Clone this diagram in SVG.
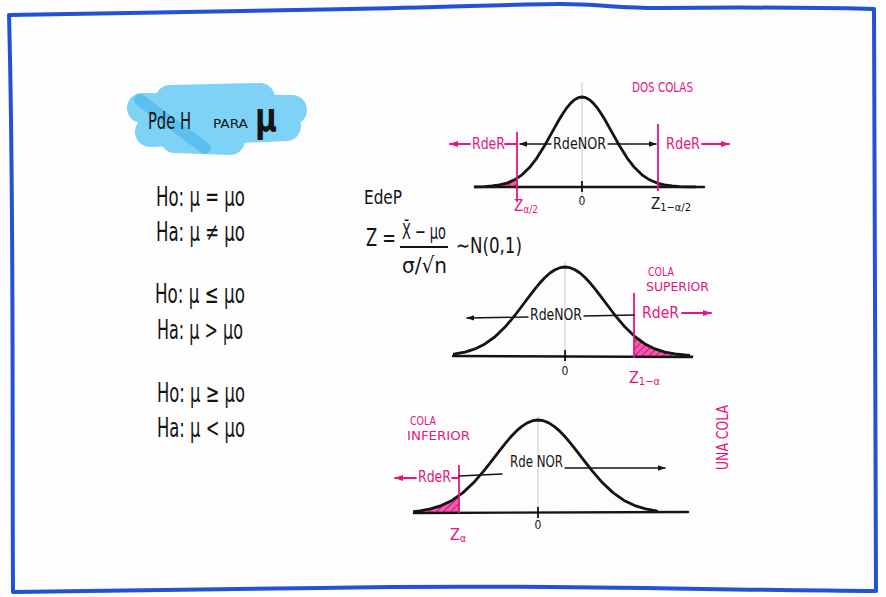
<svg xmlns="http://www.w3.org/2000/svg" xmlns:xlink="http://www.w3.org/1999/xlink" width="886" height="597" viewBox="0 0 886 597">
<style>
  text { font-family: "Liberation Sans Narrow", "DejaVu Sans Condensed", "Liberation Sans", sans-serif; }
  .ink { fill: #141414; }
  .pk { fill: #e3177f; }
  .curve { fill: none; stroke: #141414; stroke-width: 2.8; stroke-linejoin: round; stroke-linecap: round; }
  .axis { fill: none; stroke: #141414; stroke-width: 2.4; stroke-linecap: round; }
  .mid { stroke: #c9c9c9; stroke-width: 1; }
  .kl { fill: none; stroke: #141414; stroke-width: 1.4; stroke-linecap: round; }
  .pl { fill: none; stroke: #e3177f; stroke-width: 1.8; stroke-linecap: round; }
  .pv { fill: none; stroke: #e3177f; stroke-width: 1.8; }
  .tick { stroke: #141414; stroke-width: 1.8; }
</style>
<defs>
  <path id="bell" vector-effect="non-scaling-stroke" d="M-4,-0.0003 L-3.75,-0.0009 L-3.5,-0.0022 L-3.25,-0.0051 L-3,-0.0111 L-2.75,-0.0228 L-2.5,-0.0439 L-2.25,-0.0796 L-2,-0.1353 L-1.75,-0.2163 L-1.5,-0.3247 L-1.25,-0.4578 L-1,-0.6065 L-0.875,-0.6819 L-0.75,-0.7548 L-0.625,-0.8226 L-0.5,-0.8825 L-0.375,-0.9321 L-0.25,-0.9692 L-0.125,-0.9922 L0,-1 L0.125,-0.9922 L0.25,-0.9692 L0.375,-0.9321 L0.5,-0.8825 L0.625,-0.8226 L0.75,-0.7548 L0.875,-0.6819 L1,-0.6065 L1.25,-0.4578 L1.5,-0.3247 L1.75,-0.2163 L2,-0.1353 L2.25,-0.0796 L2.5,-0.0439 L2.75,-0.0228 L3,-0.0111 L3.25,-0.0051 L3.5,-0.0022 L3.75,-0.0009 L4,-0.0003"/>
  <clipPath id="under1"><use href="#bell" transform="translate(582,187) scale(30,90)"/></clipPath>
  <clipPath id="under2"><use href="#bell" transform="translate(565,356) scale(40,89)"/></clipPath>
  <clipPath id="under3"><use href="#bell" transform="translate(538,513) scale(43,93)"/></clipPath>
  <clipPath id="range1"><rect x="474" y="80" width="222" height="120"/></clipPath>
  <clipPath id="range2"><rect x="453" y="250" width="237" height="120"/></clipPath>
  <clipPath id="range3"><rect x="413" y="400" width="245" height="120"/></clipPath>
  <pattern id="hatch" patternUnits="userSpaceOnUse" width="5" height="5" patternTransform="rotate(45)">
    <rect width="5" height="5" fill="#f25aad"/>
    <line x1="0" y1="0" x2="0" y2="5" stroke="#c4006c" stroke-width="1.6"/>
  </pattern>
  <marker id="ak" viewBox="0 0 10 10" refX="9" refY="5" markerWidth="8" markerHeight="8" markerUnits="userSpaceOnUse" orient="auto-start-reverse">
    <path d="M0,1.5 L10,5 L0,8.5 Z" fill="#141414"/>
  </marker>
  <marker id="ap" viewBox="0 0 10 10" refX="9" refY="5" markerWidth="9" markerHeight="9" markerUnits="userSpaceOnUse" orient="auto-start-reverse">
    <path d="M0,1.5 L10,5 L0,8.5 Z" fill="#e3177f"/>
  </marker>
</defs>

<rect width="886" height="597" fill="#fdfdfd"/>

<g id="frame">
  <path d="M9,15 C120,13 250,11 350,9 C450,7 520,4 560,4 C600,4 615,8 660,8 C760,7 830,8 874,9 L876,591 C700,590 520,584 320,588 C170,590 70,591 13,592 C12,400 14,200 9,15 Z" fill="none" stroke="#1f52d6" stroke-width="4" stroke-linejoin="round"/>
</g>

<g id="title">
  <g stroke="#7dd2f6" stroke-width="30" stroke-linecap="round" fill="none">
    <path d="M142,108 L292,110"/>
    <path d="M150,132 L286,126"/>
    <path d="M170,100 L260,98"/>
    <path d="M175,138 L230,140"/>
  </g>
  <path d="M140,100 L205,148" stroke="#5cc0ef" stroke-width="12" stroke-linecap="round" fill="none"/>
  <text class="ink" x="148" y="129" font-size="23" textLength="43" lengthAdjust="spacingAndGlyphs">Pde H</text>
  <text class="ink" x="213" y="128" font-size="12" textLength="35" lengthAdjust="spacingAndGlyphs">PARA</text>
  <text class="ink" x="255" y="131" font-size="40" font-weight="bold" textLength="22" lengthAdjust="spacingAndGlyphs">μ</text>
</g>

<g id="hypotheses" font-size="26">
  <text class="ink" x="156" y="206" textLength="89" lengthAdjust="spacingAndGlyphs">Ho: μ = μo</text>
  <text class="ink" x="156" y="241" textLength="89" lengthAdjust="spacingAndGlyphs">Ha: μ ≠ μo</text>
  <text class="ink" x="155" y="303" textLength="90" lengthAdjust="spacingAndGlyphs">Ho: μ ≤ μo</text>
  <text class="ink" x="157" y="339" textLength="86" lengthAdjust="spacingAndGlyphs">Ha: μ &gt; μo</text>
  <text class="ink" x="157" y="402" textLength="88" lengthAdjust="spacingAndGlyphs">Ho: μ ≥ μo</text>
  <text class="ink" x="157" y="437" textLength="88" lengthAdjust="spacingAndGlyphs">Ha: μ &lt; μo</text>
</g>

<g id="formula">
  <text class="ink" x="364" y="204" font-size="20" textLength="38" lengthAdjust="spacingAndGlyphs">EdeP</text>
  <text class="ink" x="366" y="246" font-size="24" textLength="30" lengthAdjust="spacingAndGlyphs">Z =</text>
  <text class="ink" x="402" y="239" font-size="22" textLength="44" lengthAdjust="spacingAndGlyphs">X̄ − μo</text>
  <line x1="400" y1="247" x2="448" y2="247" stroke="#141414" stroke-width="2"/>
  <text class="ink" x="402" y="273" font-size="22" textLength="45" lengthAdjust="spacingAndGlyphs">σ/√n</text>
  <text class="ink" x="456" y="253" font-size="22" textLength="66" lengthAdjust="spacingAndGlyphs">∼N(0,1)</text>
</g>

<g id="chart-dos-colas">
  <line class="mid" x1="582" y1="82" x2="582" y2="196"/>
  <rect x="474" y="130" width="44" height="58" fill="url(#hatch)" clip-path="url(#under1)"/>
  <rect x="658" y="130" width="40" height="58" fill="url(#hatch)" clip-path="url(#under1)"/>
  <g clip-path="url(#range1)"><use href="#bell" class="curve" transform="translate(582,187) scale(30,90)"/></g>
  <line class="axis" x1="475" y1="187" x2="704" y2="187"/>
  <line class="tick" x1="582" y1="181" x2="582" y2="192"/>
  <line class="pv" x1="517" y1="132" x2="517" y2="202"/>
  <line class="pv" x1="658" y1="124" x2="658" y2="191"/>
  <text class="ink" x="582" y="205" font-size="12" text-anchor="middle">0</text>
  <text class="pk" x="514" y="211" font-size="15">Z<tspan font-size="10" dy="2">α/2</tspan></text>
  <text class="ink" x="651" y="209" font-size="15">Z<tspan font-size="11" dy="2">1−α/2</tspan></text>
  <text class="pk" x="632" y="92" font-size="14" textLength="61" lengthAdjust="spacingAndGlyphs">DOS COLAS</text>
  <text class="pk" x="472" y="149" font-size="15" textLength="33" lengthAdjust="spacingAndGlyphs">RdeR</text>
  <text class="ink" x="553" y="149" font-size="15" textLength="53" lengthAdjust="spacingAndGlyphs">RdeNOR</text>
  <text class="pk" x="666" y="149" font-size="15" textLength="34" lengthAdjust="spacingAndGlyphs">RdeR</text>
</g>

<g id="chart-cola-superior">
  <line class="mid" x1="565" y1="262" x2="565" y2="364"/>
  <rect x="634" y="300" width="60" height="58" fill="url(#hatch)" clip-path="url(#under2)"/>
  <g clip-path="url(#range2)"><use href="#bell" class="curve" transform="translate(565,356) scale(40,89)"/></g>
  <line class="axis" x1="453" y1="356" x2="692" y2="357"/>
  <line class="tick" x1="565" y1="350" x2="565" y2="361"/>
  <line class="pv" x1="634" y1="293" x2="634" y2="358"/>
  <text class="ink" x="565" y="375" font-size="12" text-anchor="middle">0</text>
  <text class="pk" x="629" y="383" font-size="16">Z<tspan font-size="11" dy="2">1−α</tspan></text>
  <text class="pk" x="648" y="276" font-size="12" textLength="26" lengthAdjust="spacingAndGlyphs">COLA</text>
  <text class="pk" x="646" y="291" font-size="12" textLength="63" lengthAdjust="spacingAndGlyphs">SUPERIOR</text>
  <text class="ink" x="530" y="320" font-size="15" textLength="52" lengthAdjust="spacingAndGlyphs">RdeNOR</text>
  <text class="pk" x="642" y="318" font-size="15" textLength="37" lengthAdjust="spacingAndGlyphs">RdeR</text>
</g>

<g id="chart-cola-inferior">
  <line class="mid" x1="538" y1="416" x2="538" y2="512"/>
  <rect x="413" y="460" width="46" height="54" fill="url(#hatch)" clip-path="url(#under3)"/>
  <g clip-path="url(#range3)"><use href="#bell" class="curve" transform="translate(538,513) scale(43,93)"/></g>
  <line class="axis" x1="414" y1="513" x2="688" y2="512"/>
  <line class="tick" x1="538" y1="507" x2="538" y2="518"/>
  <line class="pv" x1="459" y1="465" x2="459" y2="513"/>
  <text class="ink" x="538" y="529" font-size="12" text-anchor="middle">0</text>
  <text class="pk" x="450" y="540" font-size="16">Z<tspan font-size="11" dy="2">α</tspan></text>
  <text class="pk" x="410" y="425" font-size="12" textLength="26" lengthAdjust="spacingAndGlyphs">COLA</text>
  <text class="pk" x="407" y="440" font-size="12" textLength="63" lengthAdjust="spacingAndGlyphs">INFERIOR</text>
  <text class="pk" x="418" y="482" font-size="15" textLength="33" lengthAdjust="spacingAndGlyphs">RdeR</text>
  <text class="ink" x="510" y="467" font-size="15" textLength="53" lengthAdjust="spacingAndGlyphs">Rde NOR</text>
  <text class="pk" transform="translate(728,470) rotate(-90)" x="0" y="0" font-size="15" textLength="65" lengthAdjust="spacingAndGlyphs">UNA COLA</text>
</g>

<g id="connectors">
  <line class="pl" x1="450" y1="144" x2="470" y2="144" marker-start="url(#ap)"/>
  <line class="pl" x1="505" y1="144" x2="517" y2="144"/>
  <line class="kl" x1="520" y1="144" x2="551" y2="144" marker-start="url(#ak)"/>
  <line class="kl" x1="608" y1="144" x2="656" y2="144" marker-end="url(#ak)"/>
  <line class="pl" x1="702" y1="144" x2="729" y2="144" marker-end="url(#ap)"/>

  <line class="kl" x1="467" y1="318" x2="528" y2="317" marker-start="url(#ak)"/>
  <line class="kl" x1="584" y1="316" x2="634" y2="315"/>
  <line class="pl" x1="682" y1="313" x2="711" y2="313" marker-end="url(#ap)"/>

  <line class="pl" x1="395" y1="478" x2="416" y2="478" marker-start="url(#ap)"/>
  <line class="pl" x1="452" y1="478" x2="459" y2="478"/>
  <line class="kl" x1="459" y1="476" x2="502" y2="474"/>
  <line class="kl" x1="565" y1="468" x2="665" y2="468" marker-end="url(#ak)"/>
</g>
</svg>
